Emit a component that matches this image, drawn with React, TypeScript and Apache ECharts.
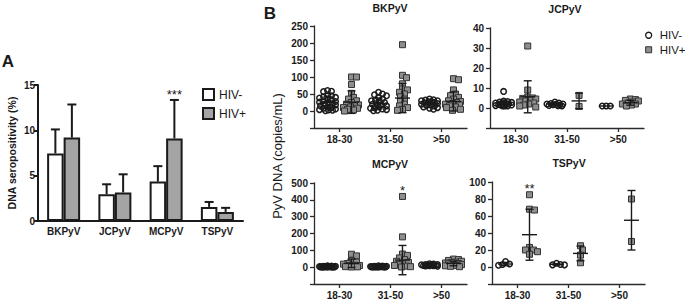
import React, { useEffect, useRef } from 'react';
import * as echarts from 'echarts';

const FONT = '"Liberation Sans", Arial, Helvetica, sans-serif';
const INK = '#1a1a1a';
const AXIS = '#2b2b2b';
const BAR_GREY = '#a4a4a4';
const SQUARE_GREY = '#8e8e8e';

// ---- Panel A: DNA seropositivity (%) per virus, mean + SD ----
const viruses = ['BKPyV', 'JCPyV', 'MCPyV', 'TSPyV'];
const seroNeg = [7.45, 2.95, 4.35, 1.55];
const seroNegSD = [2.65, 1.1, 1.7, 0.55];
const seroPos = [9.2, 3.15, 9.1, 1.0];
const seroPosSD = [3.65, 2.0, 4.25, 0.45];
const seroPosMarks = ['', '', '***', ''];

// ---- Panel B: viral load (copies/mL) per age group ----
const ageGroups = ['18-30', '31-50', '>50'];

const bkNeg = [
  [60, 58, 57, 48, 45, 42, 40, 38, 35, 33, 30, 28, 26, 24, 22, 20, 18, 15, 12, 10, 8, 6, 4, 3, 2, 1],
  [55, 50, 48, 45, 40, 36, 32, 30, 28, 25, 22, 20, 18, 15, 12, 10, 8, 6, 4, 2, 1],
  [35, 33, 32, 30, 30, 28, 27, 25, 24, 22, 20, 18, 16, 15, 12, 10, 8, 5],
];
const bkPos = [
  [100, 100, 78, 52, 40, 35, 30, 25, 20, 18, 15, 12, 10, 8, 5, 3, 0],
  [195, 105, 98, 80, 65, 62, 55, 50, 42, 35, 28, 20, 15, 10, 5, 2],
  [95, 92, 62, 50, 45, 40, 35, 30, 28, 25, 22, 20, 18, 15, 12, 10, 5, 2],
];
const bkNegMean = [25, 22, 20];
const bkNegSD = [18, 16, 9];
const bkPosMean = [26, 38, 28];
const bkPosSD = [33, 43, 28];
const bkMarks = ['', '', ''];

const jcNeg = [
  [8.3, 3.5, 3.2, 3, 2.8, 2.5, 2.2, 2, 2, 1.8, 1.5, 1.5, 1.2, 1, 1, 1],
  [3, 2.5, 2.2, 2, 2, 1.8, 1.6, 1.5, 1.3, 1.2, 1],
  [1, 1, 1],
];
const jcPos = [
  [31, 9, 5.5, 5, 4.8, 4.5, 4, 3.5, 3, 2.5, 2, 1.5, 1, 0.5],
  [6.3, 0.8],
  [4.5, 4.2, 3.8, 3.5, 3, 2.5, 2, 2, 1.5, 1],
];
const jcNegMean = [2.2, 1.9, 1];
const jcNegSD = [1.8, 0.6, 0];
const jcPosMean = [5.6, 3.55, 2.6];
const jcPosSD = [8, 3.9, 1.2];
const jcMarks = ['', '', ''];

const mcNeg = [
  [8, 6, 5, 5, 4, 4, 3, 3, 3, 2, 2, 2, 2, 1, 1, 1, 1, 0.5, 0.5, 0.5],
  [8, 6, 5, 5, 4, 4, 3, 3, 3, 2, 2, 2, 1.5, 1, 1, 1, 0.5, 0.5],
  [20, 18, 16, 15, 14, 13, 12, 11, 10, 9, 8, 7, 5],
];
const mcPos = [
  [77, 67, 40, 30, 22, 18, 12, 10, 8, 5, 3, 2, 1],
  [420, 180, 78, 70, 55, 45, 35, 28, 20, 15, 10, 6, 3, 1],
  [48, 45, 40, 35, 30, 28, 25, 22, 20, 15, 12, 10, 8, 5, 3],
];
const mcNegMean = [2.5, 2.8, 12];
const mcNegSD = [2, 2, 5];
const mcPosMean = [23, 42, 22];
const mcPosSD = [25, 87, 14];
const mcMarks = ['', '*', ''];

const tsNeg = [[6.5, 3.5, 3, 2], [4.5, 3, 2.5, 2.5], []];
const tsPos = [[85, 68, 67, 23, 20, 20, 18, 15], [25, 20, 14, 5], [80, 30]];
const tsNegMean = [3.5, 3.1, null];
const tsNegSD = [1.9, 0.9, null];
const tsPosMean = [38, 16, 55];
const tsPosSD = [30, 8.7, 35];
const tsMarks = ['**', '', ''];

const yTicksBK = [0, 50, 100, 150, 200, 250];
const yTicksJC = [0, 10, 20, 30, 40];
const yTicksMC = [0, 100, 200, 300, 400, 500];
const yTicksTS = [0, 20, 40, 60, 80, 100];

const panels = [
  { title: 'BKPyV', neg: bkNeg, pos: bkPos, negMean: bkNegMean, negSD: bkNegSD, posMean: bkPosMean, posSD: bkPosSD, marks: bkMarks, ticks: yTicksBK, min: -50, step: 50 },
  { title: 'JCPyV', neg: jcNeg, pos: jcPos, negMean: jcNegMean, negSD: jcNegSD, posMean: jcPosMean, posSD: jcPosSD, marks: jcMarks, ticks: yTicksJC, min: -10, step: 10 },
  { title: 'MCPyV', neg: mcNeg, pos: mcPos, negMean: mcNegMean, negSD: mcNegSD, posMean: mcPosMean, posSD: mcPosSD, marks: mcMarks, ticks: yTicksMC, min: -100, step: 100 },
  { title: 'TSPyV', neg: tsNeg, pos: tsPos, negMean: tsNegMean, negSD: tsNegSD, posMean: tsPosMean, posSD: tsPosSD, marks: tsMarks, ticks: yTicksTS, min: -20, step: 20 },
];

// plot boxes of the four small panels (px)
const panelBoxes = [
  { left: 314, top: 26, width: 153, height: 102, tx: 390, ty: 7.5 },
  { left: 490, top: 28, width: 154, height: 100, tx: 565, ty: 8.5 },
  { left: 314, top: 183, width: 153, height: 101, tx: 390, ty: 164 },
  { left: 492, top: 182, width: 153, height: 102, tx: 569, ty: 163 },
];

const GROUP_SHIFT = 0.235; // HIV- left / HIV+ right of each age tick

// simple beeswarm: horizontal pixel offsets so dots overlap as little as possible
function swarm(values: number[], pxPerUnit: number, diam: number, maxHalf: number): number[] {
  const placed: { x: number; y: number }[] = [];
  const out: number[] = [];
  for (const v of values) {
    const y = v * pxPerUnit;
    let best = 0;
    let bestScore = -Infinity;
    let found = false;
    for (let k = 0; k <= maxHalf && !found; k += 1) {
      const cands = k === 0 ? [0] : [k, -k];
      for (const s of cands) {
        let minD = Infinity;
        for (const p of placed) minD = Math.min(minD, Math.hypot(p.x - s, p.y - y));
        if (minD >= diam) {
          best = s;
          found = true;
          break;
        }
        if (minD > bestScore + 0.01) {
          bestScore = minD;
          best = s;
        }
      }
    }
    placed.push({ x: best, y });
    out.push(best);
  }
  return out;
}

const boldLabel = { fontFamily: FONT, fontWeight: 'bold' as const, fontSize: 10, color: INK };

function buildOption() {
  const grid: any[] = [{ left: 38, top: 85, width: 205, height: 136 }];
  const xAxis: any[] = [
    {
      type: 'category', gridIndex: 0, data: viruses,
      axisLine: { onZero: false, lineStyle: { color: INK, width: 2 } },
      axisTick: { show: false },
      axisLabel: { ...boldLabel, margin: 5 },
    },
  ];
  const yAxis: any[] = [
    {
      type: 'value', gridIndex: 0, min: 0, max: 15, interval: 5,
      axisLine: { show: true, onZero: false, lineStyle: { color: INK, width: 2 } },
      axisTick: { show: true, length: 4, lineStyle: { color: INK, width: 2 } },
      axisLabel: { ...boldLabel, margin: 3 },
      splitLine: { show: false },
      name: 'DNA seropositivity (%)', nameLocation: 'middle', nameGap: 21,
      nameTextStyle: { fontFamily: FONT, fontWeight: 'bold', fontSize: 10.5, color: INK },
    },
  ];

  const series: any[] = [
    {
      type: 'bar', name: 'HIV-', xAxisIndex: 0, yAxisIndex: 0, data: seroNeg,
      barWidth: 16.5, barGap: '0%',
      itemStyle: { color: '#ffffff', borderColor: INK, borderWidth: 2 },
    },
    {
      type: 'bar', name: 'HIV+', xAxisIndex: 0, yAxisIndex: 0, data: seroPos,
      barWidth: 16.5, barGap: '0%',
      itemStyle: { color: BAR_GREY, borderColor: INK, borderWidth: 2 },
    },
  ];

  // one-sided SD whiskers on the bars
  const barWhisker = (side: number, marks: string[]) => (params: any, api: any) => {
    const i = api.value(0);
    const v = api.value(1);
    const sd = api.value(2);
    const base = api.coord([i, v]);
    const top = api.coord([i, v + sd]);
    const x = base[0] + side * 8.25;
    const ls = { stroke: INK, lineWidth: 2 };
    const children: any[] = [
      { type: 'line', shape: { x1: x, y1: base[1], x2: x, y2: top[1] }, style: ls },
      { type: 'line', shape: { x1: x - 4.5, y1: top[1], x2: x + 4.5, y2: top[1] }, style: ls },
    ];
    const m = marks[params.dataIndex];
    if (m) {
      children.push({
        type: 'text',
        style: { text: m, x, y: top[1] - 5, align: 'center', verticalAlign: 'middle', font: `13px ${FONT}`, fill: INK },
      });
    }
    return { type: 'group', children };
  };
  series.push({
    type: 'custom', name: 'HIV- SD', xAxisIndex: 0, yAxisIndex: 0, z: 5,
    data: viruses.map((_, i) => [i, seroNeg[i], seroNegSD[i]]),
    renderItem: barWhisker(-1, ['', '', '', '']),
  });
  series.push({
    type: 'custom', name: 'HIV+ SD', xAxisIndex: 0, yAxisIndex: 0, z: 5,
    data: viruses.map((_, i) => [i, seroPos[i], seroPosSD[i]]),
    renderItem: barWhisker(1, seroPosMarks),
  });

  // mean ± SD marks on the dot plots
  const dotWhisker = (marks: string[]) => (params: any, api: any) => {
    const x = api.value(0);
    const m = api.value(1);
    const sd = api.value(2);
    const topVal = api.value(3);
    const c = api.coord([x, m]);
    const hi = api.coord([x, m + sd]);
    const lo = api.coord([x, m - sd]);
    const ls = { stroke: INK, lineWidth: 1.4 };
    const children: any[] = [
      { type: 'line', shape: { x1: c[0] - 7.5, y1: c[1], x2: c[0] + 7.5, y2: c[1] }, style: ls },
    ];
    if (sd > 0) {
      children.push(
        { type: 'line', shape: { x1: c[0], y1: hi[1], x2: c[0], y2: lo[1] }, style: ls },
        { type: 'line', shape: { x1: c[0] - 4, y1: hi[1], x2: c[0] + 4, y2: hi[1] }, style: ls },
        { type: 'line', shape: { x1: c[0] - 4, y1: lo[1], x2: c[0] + 4, y2: lo[1] }, style: ls },
      );
    }
    const mk = marks[params.dataIndex];
    if (mk) {
      const t = api.coord([x, topVal]);
      children.push({
        type: 'text',
        style: { text: mk, x: c[0], y: t[1] - 6, align: 'center', verticalAlign: 'middle', font: `13px ${FONT}`, fill: INK },
      });
    }
    return { type: 'group', children };
  };

  const graphic: any[] = [
    { type: 'text', x: 8, y: 61, style: { text: 'A', font: `bold 17px ${FONT}`, fill: INK, align: 'center', verticalAlign: 'middle' } },
    { type: 'text', x: 270, y: 13, style: { text: 'B', font: `bold 17px ${FONT}`, fill: INK, align: 'center', verticalAlign: 'middle' } },
    {
      type: 'text', x: 277, y: 156, rotation: Math.PI / 2,
      style: { text: 'PyV DNA (copies/mL)', font: `13px ${FONT}`, fill: INK, align: 'center', verticalAlign: 'middle' },
    },
  ];

  panels.forEach((p, k) => {
    const box = panelBoxes[k];
    const gi = 1 + k;
    const xVal = 2 + 2 * k;
    const max = p.ticks[p.ticks.length - 1];
    const ppu = box.height / (max - p.min);
    const ppc = box.width / 3;

    grid.push({ left: box.left, top: box.top, width: box.width, height: box.height });
    xAxis.push({
      type: 'category', gridIndex: gi, data: ageGroups, boundaryGap: true, position: 'bottom',
      axisLine: { onZero: false, lineStyle: { color: AXIS, width: 1.3 } },
      axisTick: { show: true, alignWithLabel: true, length: 4, lineStyle: { color: AXIS, width: 1.3 } },
      axisLabel: { ...boldLabel, margin: 6 },
    });
    xAxis.push({
      type: 'value', gridIndex: gi, min: -0.5, max: 2.5, show: false, position: 'top',
      axisLine: { onZero: false },
    });
    yAxis.push({
      type: 'value', gridIndex: gi, min: p.min, max, interval: p.step, position: 'left',
      axisLine: { show: true, onZero: false, lineStyle: { color: AXIS, width: 1.3 } },
      axisTick: { show: true, length: 4, lineStyle: { color: AXIS, width: 1.3 } },
      axisLabel: { ...boldLabel, margin: 6, formatter: (v: number) => (v < 0 ? '' : String(v)) },
      splitLine: { show: false },
    });

    graphic.push({
      type: 'text', x: box.tx, y: box.ty,
      style: { text: p.title, font: `bold 10.5px ${FONT}`, fill: INK, align: 'center', verticalAlign: 'middle' },
    });

    const negPts: number[][] = [];
    const posPts: number[][] = [];
    p.neg.forEach((vals, g) => {
      const offs = swarm(vals, ppu, 4, 8);
      vals.forEach((v, j) => negPts.push([g - GROUP_SHIFT + offs[j] / ppc, v]));
    });
    p.pos.forEach((vals, g) => {
      const offs = swarm(vals, ppu, 4.5, 8);
      vals.forEach((v, j) => posPts.push([g + GROUP_SHIFT + offs[j] / ppc, v]));
    });

    series.push({
      type: 'scatter', name: 'HIV-', xAxisIndex: xVal, yAxisIndex: gi, data: negPts, z: 2,
      symbol: 'circle', symbolSize: 5.5,
      itemStyle: { color: 'rgba(255,255,255,0)', borderColor: INK, borderWidth: 1.5, opacity: 1 },
    });
    series.push({
      type: 'scatter', name: 'HIV+', xAxisIndex: xVal, yAxisIndex: gi, data: posPts, z: 2,
      symbol: 'rect', symbolSize: 6,
      itemStyle: { color: SQUARE_GREY, borderColor: '#333333', borderWidth: 1, opacity: 1 },
    });

    const negStats: number[][] = [];
    const negMarks: string[] = [];
    p.negMean.forEach((m, g) => {
      if (m == null) return;
      const sd = p.negSD[g] as number;
      negStats.push([g - GROUP_SHIFT, m, sd, Math.max(...p.neg[g])]);
      negMarks.push('');
    });
    const posStats: number[][] = [];
    const posMarks: string[] = [];
    p.posMean.forEach((m, g) => {
      posStats.push([g + GROUP_SHIFT, m, p.posSD[g], Math.max(...p.pos[g])]);
      posMarks.push(p.marks[g]);
    });
    series.push({
      type: 'custom', name: 'HIV- mean ± SD', xAxisIndex: xVal, yAxisIndex: gi, z: 4,
      data: negStats, renderItem: dotWhisker(negMarks),
    });
    series.push({
      type: 'custom', name: 'HIV+ mean ± SD', xAxisIndex: xVal, yAxisIndex: gi, z: 4,
      data: posStats, renderItem: dotWhisker(posMarks),
    });
  });

  const legend = [
    {
      orient: 'vertical', left: 202, top: 88, padding: 0, itemWidth: 11, itemHeight: 11, itemGap: 6,
      selectedMode: false,
      textStyle: { fontFamily: FONT, fontSize: 12, color: INK },
      data: [
        { name: 'HIV-', icon: 'rect', itemStyle: { color: '#ffffff', borderColor: INK, borderWidth: 2 } },
        { name: 'HIV+', icon: 'rect', itemStyle: { color: BAR_GREY, borderColor: INK, borderWidth: 2 } },
      ],
    },
    {
      orient: 'vertical', left: 645, top: 29.25, padding: 0, itemWidth: 6, itemHeight: 6, itemGap: 2.5,
      selectedMode: false,
      textStyle: { fontFamily: FONT, fontSize: 11.5, color: INK, padding: [0, 0, 0, 3] },
      data: [
        { name: 'HIV-', icon: 'circle', itemStyle: { color: '#ffffff', borderColor: INK, borderWidth: 1.3 } },
        { name: 'HIV+', icon: 'rect', itemStyle: { color: SQUARE_GREY, borderColor: '#333333', borderWidth: 1 } },
      ],
    },
  ];

  return {
    animation: false,
    backgroundColor: '#ffffff',
    textStyle: { fontFamily: FONT },
    grid,
    xAxis,
    yAxis,
    legend,
    graphic,
    series,
  };
}

export default function App() {
  const ref = useRef<HTMLDivElement>(null);
  useEffect(() => {
    if (!ref.current) return;
    const chart = echarts.init(ref.current, null, { renderer: 'svg' });
    chart.setOption(buildOption() as any);
    return () => chart.dispose();
  }, []);
  return (
    <div
      ref={ref}
      style={{ position: 'fixed', left: 0, top: 0, width: 685, height: 301, background: '#ffffff' }}
    />
  );
}
